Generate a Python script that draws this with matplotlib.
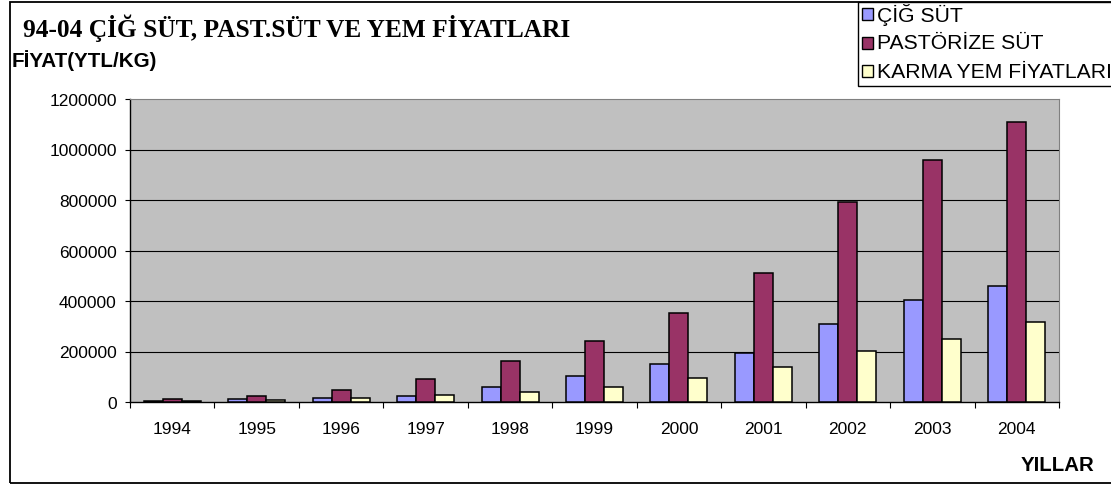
import matplotlib
matplotlib.use("Agg")
import matplotlib.pyplot as plt
from matplotlib.patches import Rectangle
from matplotlib.ticker import FixedLocator, NullFormatter

plt.rcParams['font.family'] = ['Liberation Sans', 'DejaVu Sans']

years = ['1994', '1995', '1996', '1997', '1998', '1999', '2000', '2001', '2002', '2003', '2004']
cig_sut = [5000, 12000, 16000, 24000, 60500, 104000, 151000, 193000, 309000, 403000, 458000]
past_sut = [12000, 23000, 48000, 93000, 162000, 241000, 351000, 511000, 791000, 958000, 1109000]
yem = [4000, 8000, 16000, 27000, 41000, 61000, 97000, 137000, 201000, 250000, 318000]
series_names = ['ÇİĞ SÜT', 'PASTÖRİZE SÜT', 'KARMA YEM FİYATLARI']
series_colors = ['#9999FF', '#993366', '#FFFFCC']
yticks = [0, 200000, 400000, 600000, 800000, 1000000, 1200000]

W, H = 1111, 485
fig = plt.figure(figsize=(W / 100, H / 100), dpi=100)
fig.patch.set_facecolor('white')

# outer border
fig.add_artist(Rectangle((10 / W, 1 - 483.5 / H), (1120 - 10) / W, (483.5 - 3) / H,
                         transform=fig.transFigure, fill=False, edgecolor='black', lw=1.3,
                         clip_on=False))

L, R, T, B = 130, 1059, 100, 403
ax = fig.add_axes([L / W, 1 - B / H, (R - L) / W, (B - T) / H])
ax.set_facecolor('#C0C0C0')

x = list(range(len(years)))
bw = 0.225
for i, (vals, col) in enumerate(zip([cig_sut, past_sut, yem], series_colors)):
    pos = [xi + (i - 1) * bw for xi in x]
    ax.bar(pos, vals, width=bw, color=col, edgecolor='black', linewidth=1.1, zorder=3)

ax.set_xlim(-0.5, len(years) - 0.5)
ax.set_ylim(0, 1200000)
ax.set_yticks(yticks)
ax.set_yticklabels([str(v) for v in yticks], fontsize=12.5)
for v in yticks[1:-1]:
    ax.axhline(v, color='black', lw=0.8, zorder=1)

ax.xaxis.set_major_locator(FixedLocator([k - 0.5 for k in range(len(years) + 1)]))
ax.xaxis.set_major_formatter(NullFormatter())
ax.xaxis.set_minor_locator(FixedLocator(x))
ax.set_xticklabels(years, minor=True, fontsize=12.5)
ax.tick_params(axis='x', which='major', length=4.5, width=0.8, direction='out', color='black')
ax.tick_params(axis='x', which='minor', length=0, pad=14)
ax.tick_params(axis='y', length=3.6, width=0.8, direction='out', pad=6, color='black')

ax.spines['left'].set_color('black')
ax.spines['bottom'].set_color('black')
ax.spines['left'].set_linewidth(1.0)
ax.spines['bottom'].set_linewidth(1.0)
ax.spines['top'].set_color('#808080')
ax.spines['right'].set_color('#808080')

# titles
fig.text(23 / W, 1 - 37 / H, '94-04 ÇİĞ SÜT, PAST.SÜT VE YEM FİYATLARI',
         family=['Liberation Serif', 'DejaVu Serif'], fontweight='bold', fontsize=18.3,
         ha='left', va='baseline')
fig.text(12 / W, 1 - 67 / H, 'FİYAT(YTL/KG)', fontweight='bold', fontsize=14.9,
         ha='left', va='baseline')
fig.text(1094 / W, 1 - 471 / H, 'YILLAR', fontweight='bold', fontsize=14.7,
         ha='right', va='baseline')

# legend box
fig.add_artist(Rectangle((858 / W, 1 - 87 / H), (1120 - 858) / W, (87 - 3) / H,
                         transform=fig.transFigure, facecolor='white', edgecolor='black',
                         lw=1.0, clip_on=False, zorder=5))
row_y = [15, 43.5, 72]
for name, col, yy in zip(series_names, series_colors, row_y):
    fig.add_artist(Rectangle((862 / W, 1 - (yy + 6) / H), 11 / W, 12 / H,
                             transform=fig.transFigure, facecolor=col, edgecolor='black',
                             lw=1.0, zorder=6))
    fig.text(877 / W, 1 - yy / H, name, fontsize=15.2, ha='left', va='center', zorder=7)

fig.savefig('out.png', dpi=100)
